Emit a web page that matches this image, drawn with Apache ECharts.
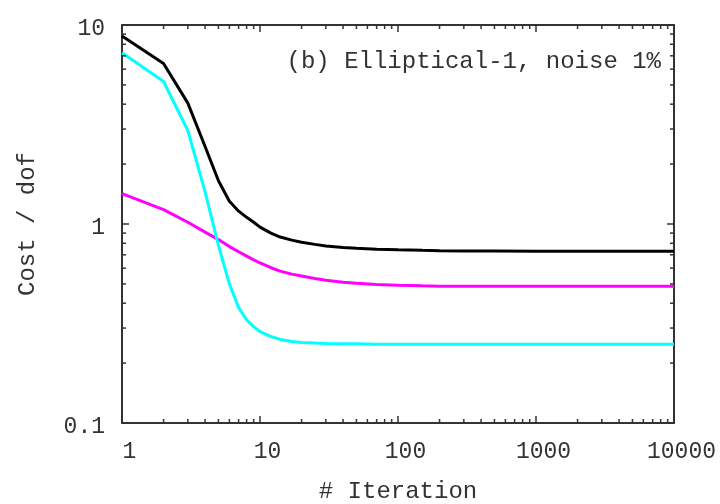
<!DOCTYPE html>
<html lang="en">
<head>
    <meta charset="utf-8">
    <title>Cost / dof</title>
    <script src="https://cdn.jsdelivr.net/npm/echarts@6/dist/echarts.min.js"></script>
    <style>
        html, body { margin: 0; padding: 0; background: #fff; }
        #chart { width: 720px; height: 504px; }
    </style>
</head>
<body>
<div id="chart"></div>
<script>
    // iteration numbers (x)
    var iterations = [1, 2, 3, 4, 5, 6, 7, 8, 9, 10, 12, 14, 17, 20, 25, 30, 40, 50, 70,
        100, 150, 200, 300, 500, 1000, 2000, 5000, 10000];
    // cost / dof
    var blackCost = [8.8, 6.4, 4.05, 2.45, 1.65, 1.3, 1.16, 1.08, 1.02, 0.965, 0.9, 0.86, 0.83,
        0.81, 0.79, 0.775, 0.762, 0.755, 0.747, 0.742, 0.737, 0.734, 0.732, 0.731, 0.73,
        0.73, 0.73, 0.73];
    var cyanCost = [7.25, 5.2, 2.95, 1.45, 0.78, 0.5, 0.38, 0.33, 0.305, 0.288, 0.272, 0.263,
        0.257, 0.254, 0.252, 0.251, 0.25, 0.25, 0.249, 0.249, 0.249, 0.249, 0.249, 0.249,
        0.249, 0.249, 0.249, 0.249];
    var magentaCost = [1.42, 1.18, 1.02, 0.91, 0.835, 0.77, 0.725, 0.69, 0.66, 0.637, 0.603,
        0.58, 0.56, 0.548, 0.532, 0.522, 0.51, 0.504, 0.497, 0.492, 0.489, 0.487, 0.486,
        0.486, 0.486, 0.486, 0.486, 0.486];
    // minor tick positions (2..9 per decade)
    var xMinorTicks = [];
    var yMinorTicks = [];
    [1, 10, 100, 1000].forEach(function (d) {
        for (var k = 2; k <= 9; k++) xMinorTicks.push(k * d);
    });
    [0.1, 1].forEach(function (d) {
        for (var k = 2; k <= 9; k++) yMinorTicks.push(+(k * d).toPrecision(3));
    });

    var font = '"Liberation Mono", "DejaVu Sans Mono", monospace';
    var axisColor = '#333';
    var textColor = '#333';

    function pairs(xs, ys) {
        return xs.map(function (x, i) { return [x, ys[i]]; });
    }
    function fmt(v) {
        return String(+(+v).toPrecision(6));
    }

    function baseAxis(extra) {
        var a = {
            type: 'log',
            logBase: 10,
            splitLine: { show: false },
            minorTick: { show: false },
            axisLine: { show: true, lineStyle: { color: axisColor, width: 2 } },
            axisTick: { show: true, inside: true, length: 7, lineStyle: { color: axisColor, width: 1.5 } }
        };
        for (var k in extra) a[k] = extra[k];
        return a;
    }

    var myChart = echarts.init(document.getElementById('chart'));
    myChart.setOption({
        backgroundColor: '#fff',
        animation: false,
        title: {
            text: '(b) Elliptical-1, noise 1%',
            right: 54,
            top: 45,
            textStyle: { fontFamily: font, fontSize: 24, fontWeight: 'normal', color: textColor }
        },
        grid: { left: 122, top: 25, right: 46, bottom: 81, outerBoundsMode: 'none', containLabel: false },
        xAxis: [
            baseAxis({
                position: 'bottom', min: 1, max: 10000,
                name: '# Iteration', nameLocation: 'middle', nameGap: 57,
                nameTextStyle: { fontFamily: font, fontSize: 24, color: textColor },
                axisLabel: {
                    fontFamily: font, fontSize: 23, color: textColor, margin: 17,
                    padding: [0, 0, 0, 15], formatter: fmt
                }
            }),
            baseAxis({
                position: 'top', min: 1, max: 10000,
                axisLabel: { show: false }
            })
        ],
        yAxis: [
            baseAxis({
                position: 'left', min: 0.1, max: 10,
                name: 'Cost / dof', nameLocation: 'middle', nameGap: 82, nameRotate: 90,
                nameTextStyle: { fontFamily: font, fontSize: 24, color: textColor },
                axisLabel: {
                    fontFamily: font, fontSize: 23, color: textColor, margin: 17,
                    formatter: function (v) { return '{a|' + fmt(v) + '}'; },
                    rich: { a: { fontFamily: font, fontSize: 23, color: textColor, padding: [8, 0, 0, 0] } }
                }
            }),
            baseAxis({
                position: 'right', min: 0.1, max: 10,
                axisLabel: { show: false }
            })
        ],
        series: [
            {
                name: 'magenta', type: 'line', data: pairs(iterations, magentaCost),
                showSymbol: false, symbol: 'none', lineStyle: { color: '#ff00ff', width: 3 }
            },
            {
                name: 'cyan', type: 'line', data: pairs(iterations, cyanCost),
                showSymbol: false, symbol: 'none', lineStyle: { color: '#00ffff', width: 3 }
            },
            {
                name: 'black', type: 'line', data: pairs(iterations, blackCost),
                showSymbol: false, symbol: 'none', lineStyle: { color: '#000', width: 3 }
            },
            {
                // minor ticks along the bottom and top
                type: 'custom', silent: true, z: 5,
                data: xMinorTicks.map(function (v) { return [v, 1]; }),
                renderItem: function (params, api) {
                    var cs = params.coordSys;
                    var p = api.coord([api.value(0), api.value(1)]);
                    var bottom = cs.y + cs.height;
                    return {
                        type: 'group',
                        children: [
                            { type: 'line', shape: { x1: p[0], y1: bottom, x2: p[0], y2: bottom - 4 },
                              style: { stroke: axisColor, lineWidth: 1.5 } },
                            { type: 'line', shape: { x1: p[0], y1: cs.y, x2: p[0], y2: cs.y + 4 },
                              style: { stroke: axisColor, lineWidth: 1.5 } }
                        ]
                    };
                }
            },
            {
                // minor ticks along the left and right
                type: 'custom', silent: true, z: 5,
                data: yMinorTicks.map(function (v) { return [1, v]; }),
                renderItem: function (params, api) {
                    var cs = params.coordSys;
                    var p = api.coord([api.value(0), api.value(1)]);
                    var right = cs.x + cs.width;
                    return {
                        type: 'group',
                        children: [
                            { type: 'line', shape: { x1: cs.x, y1: p[1], x2: cs.x + 4, y2: p[1] },
                              style: { stroke: axisColor, lineWidth: 1.5 } },
                            { type: 'line', shape: { x1: right, y1: p[1], x2: right - 4, y2: p[1] },
                              style: { stroke: axisColor, lineWidth: 1.5 } }
                        ]
                    };
                }
            }
        ]
    });
</script>
</body>
</html>
